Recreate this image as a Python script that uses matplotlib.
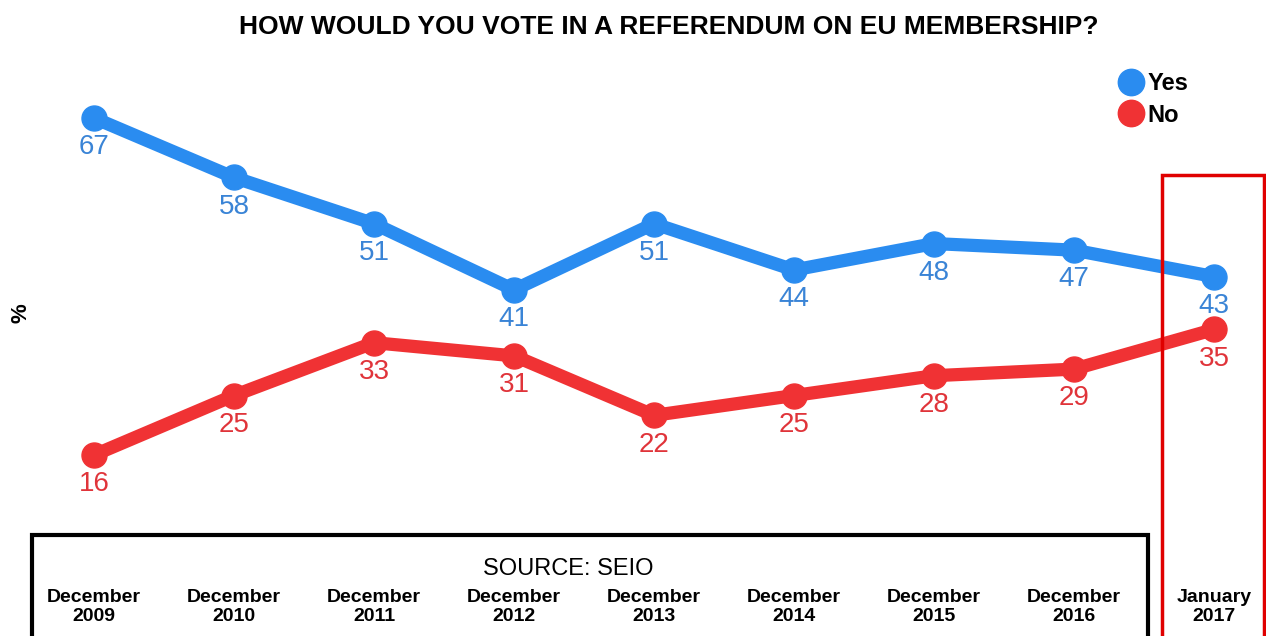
import matplotlib
matplotlib.use("Agg")
import matplotlib.pyplot as plt
from matplotlib.patches import Rectangle
from matplotlib.lines import Line2D

plt.rcParams['font.family'] = ['Liberation Sans', 'DejaVu Sans']

periods = ["December\n2009", "December\n2010", "December\n2011", "December\n2012",
           "December\n2013", "December\n2014", "December\n2015", "December\n2016",
           "January\n2017"]
yes_vals = [67, 58, 51, 41, 51, 44, 48, 47, 43]
no_vals = [16, 25, 33, 31, 22, 25, 28, 29, 35]

blue = '#2a8cf0'
blue_txt = '#3a84d6'
red = '#f03234'
red_txt = '#e0343a'

W, H = 1266, 636
fig = plt.figure(figsize=(W / 100, H / 100), dpi=100)
ax = fig.add_axes([0, 0, 1, 1])
ax.set_xlim(-94 / 140, (W - 94) / 140)
ax.set_ylim(67 - (H - 118) / 6.608, 67 + 118 / 6.608)
ax.axis('off')

x = list(range(len(periods)))
ax.plot(x, yes_vals, color=blue, lw=9.5, marker='o', ms=18, solid_capstyle='round', zorder=3)
ax.plot(x, no_vals, color=red, lw=9.5, marker='o', ms=18, solid_capstyle='round', zorder=3)

for xi, v in zip(x, yes_vals):
    ax.annotate(str(v), (xi, v), xytext=(0, -21), textcoords='offset points',
                ha='center', va='center', fontsize=20, color=blue_txt)
for xi, v in zip(x, no_vals):
    ax.annotate(str(v), (xi, v), xytext=(0, -21), textcoords='offset points',
                ha='center', va='center', fontsize=20, color=red_txt)

# title and axis label
fig.text(669 / W, 1 - 27 / H, "HOW WOULD YOU VOTE IN A REFERENDUM ON EU MEMBERSHIP?",
         ha='center', va='center', fontsize=19, fontweight='bold')
fig.text(21 / W, 1 - 313 / H, "%", rotation=90, ha='center', va='center',
         fontsize=16, fontweight='bold')

# legend
handles = [Line2D([], [], ls='none', marker='o', ms=19, color=blue),
           Line2D([], [], ls='none', marker='o', ms=19, color=red)]
leg = fig.legend(handles, ["Yes", "No"], loc='upper left',
                 bbox_to_anchor=(1094 / W, 1 - 51 / H), frameon=False,
                 handletextpad=0.05, labelspacing=0.35, handlelength=1.3,
                 prop={'weight': 'bold', 'size': 17})

# bottom box with source and category labels
fig.patches.append(Rectangle((32 / W, -0.05), (1148 - 32) / W, 0.05 + (H - 535) / H,
                             transform=fig.transFigure, fill=False, ec='black', lw=3))
fig.patches.append(Rectangle((1162 / W, -0.05), (1264 - 1162) / W, 0.05 + (H - 175) / H,
                             transform=fig.transFigure, fill=False, ec='#e00000', lw=2.5))
fig.text(568 / W, 1 - 569 / H, "SOURCE: SEIO", ha='center', va='center', fontsize=17)

for xi, lab in zip(x, periods):
    ax.text(xi, 67 - (607 - 118) / 6.608, lab, ha='center', va='center',
            fontsize=14, fontweight='bold', linespacing=1.12)

fig.savefig("out.png", dpi=100)
